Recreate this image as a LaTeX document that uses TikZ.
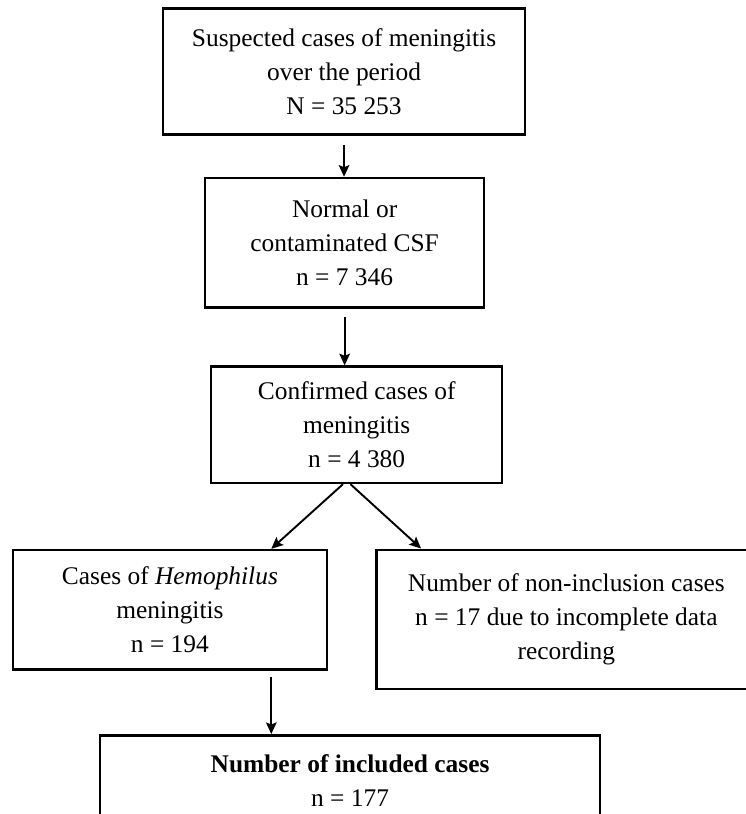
\documentclass[tikz,border=0pt]{standalone}
\usepackage{fontspec}
\setmainfont{Liberation Serif}
\usetikzlibrary{arrows.meta}
\tikzset{
  box/.style  = {rectangle, draw, line width=1.2pt, align=center, inner sep=2pt, font=\fontsize{12}{16}\selectfont},
  link/.style = {line width=0.9pt, -{Stealth[length=5.5pt,width=5pt,inset=1pt]}}
}

\begin{document}
\begin{tikzpicture}
  \useasboundingbox (0,0) rectangle (12.37,13.51);

  % colonna centrale
  \node[box, minimum width=6.01cm, minimum height=2.09cm] (sosp) at (5.71,12.32) {Suspected cases of meningitis\\over the period\\N = 35 253};
  \node[box, minimum width=4.63cm, minimum height=2.15cm] (norm) at (5.72, 9.48) {Normal or\\contaminated CSF\\n = 7 346};
  \node[box, minimum width=4.83cm, minimum height=1.93cm] (conf) at (5.92, 6.46) {Confirmed cases of\\meningitis\\n = 4 380};
  \draw[link, shorten <=0.15cm] (sosp.south) -- (sosp.south |- norm.north);
  \draw[link, shorten <=0.13cm] (norm.south) -- (norm.south |- conf.north);

  % ramo sinistro e destro
  \node[box, minimum width=5.21cm, minimum height=1.98cm] (hemo) at (2.82, 3.39) {Cases of \textit{Hemophilus}\\meningitis\\n = 194};
  \node[box, minimum width=6.30cm, minimum height=2.31cm] (nonincl) at (9.40, 3.23) {Number of non-inclusion cases\\n = 17 due to incomplete data\\recording};
  \draw[link] (conf.257) -- (hemo.31);
  \draw[link] (conf.264) -- (nonincl.154);

  % fondo
  \node[box, minimum width=8.30cm, minimum height=1.49cm] (incl) at (5.81, 0.56) {\textbf{Number of included cases}\\n = 177};
  \draw[link, shorten <=0.1cm] (hemo.329) -- (hemo.329 |- incl.north);
\end{tikzpicture}
\end{document}
